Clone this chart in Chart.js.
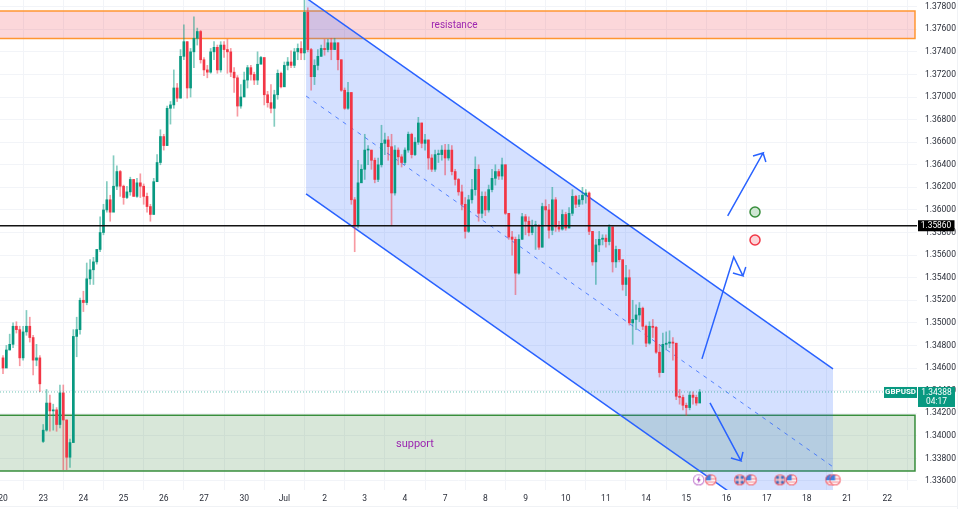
<!DOCTYPE html>
<html lang="en">

<head>
    <meta charset="UTF-8">
    <title>GBPUSD</title>
    <script src="https://cdn.jsdelivr.net/npm/chart.js"></script>
    <style>
        html, body { margin: 0; padding: 0; background: #ffffff; overflow: hidden; }
        canvas { display: block; }
    </style>
</head>

<body>
    <canvas id="grafico" width="964" height="509"></canvas>

<script>
    // day labels of the time axis, one per session
    const dayLabels = ['20','23','24','25','26','27','30','Jul','2','3','4','7','8','9','10','11','14','15','16','17','18','21','22'];
    const priceTicks = [1.378,1.376,1.374,1.372,1.370,1.368,1.366,1.364,1.362,1.360,1.358,1.356,1.354,1.352,1.350,1.348,1.346,1.344,1.342,1.340,1.338,1.336];

    // 2h candles, 12 per session
    const opens = [
        1.3469,1.3460,1.3476,1.3481,1.3497,1.3494,1.3469,1.3492,1.3497,1.3487,1.3467,1.3469,
        1.3395,1.3405,1.3429,1.3422,1.3423,1.3410,1.3438,1.3414,1.3381,1.3394,1.3488,1.3494,
        1.3520,1.3518,1.3539,1.3547,1.3554,1.3565,1.3580,1.3600,1.3609,1.3598,1.3621,1.3634,
        1.3621,1.3611,1.3616,1.3627,1.3612,1.3624,1.3621,1.3612,1.3603,1.3596,1.3625,1.3642,
        1.3665,1.3657,1.3690,1.3693,1.3708,1.3699,1.3736,1.3749,1.3708,1.3740,1.3752,1.3758,
        1.3733,1.3724,1.3722,1.3740,1.3744,1.3724,1.3746,1.3742,1.3740,1.3722,1.3717,1.3692,
        1.3700,1.3715,1.3726,1.3720,1.3715,1.3729,1.3735,1.3702,1.3695,1.3690,1.3702,1.3721,
        1.3709,1.3728,1.3731,1.3728,1.3740,1.3743,1.3739,1.3775,1.3742,1.3718,1.3728,1.3736,
        1.3743,1.3742,1.3748,1.3742,1.3748,1.3733,1.3706,1.3690,1.3704,1.3609,1.3586,1.3624,
        1.3636,1.3653,1.3653,1.3644,1.3627,1.3640,1.3659,1.3662,1.3656,1.3615,1.3653,1.3647,
        1.3642,1.3653,1.3667,1.3649,1.3660,1.3677,1.3659,1.3662,1.3646,1.3636,1.3649,1.3649,
        1.3653,1.3646,1.3653,1.3634,1.3627,1.3616,1.3605,1.3581,1.3609,1.3618,1.3636,1.3597,
        1.3612,1.3600,1.3618,1.3628,1.3634,1.3630,1.3640,1.3597,1.3576,1.3574,1.3544,1.3574,
        1.3594,1.3590,1.3580,1.3586,1.3586,1.3567,1.3603,1.3600,1.3582,1.3609,1.3585,1.3583,
        1.3596,1.3584,1.3597,1.3612,1.3605,1.3609,1.3613,1.3615,1.3581,1.3554,1.3569,1.3574,
        1.3575,1.3572,1.3585,1.3554,1.3565,1.3556,1.3534,1.3540,1.3500,1.3503,1.3507,1.3513,
        1.3497,1.3482,1.3497,1.3496,1.3474,1.3456,1.3481,1.3482,1.3483,1.3482,1.3435,1.3434,
        1.3427,1.3425,1.3436,1.3434,1.3429
    ];
    const closes = [
        1.3460,1.3476,1.3481,1.3497,1.3494,1.3469,1.3492,1.3497,1.3487,1.3467,1.3469,1.3446,
        1.3405,1.3429,1.3422,1.3423,1.3410,1.3438,1.3414,1.3381,1.3394,1.3488,1.3494,1.3520,
        1.3518,1.3539,1.3547,1.3554,1.3565,1.3580,1.3600,1.3609,1.3598,1.3621,1.3634,1.3621,
        1.3611,1.3616,1.3627,1.3612,1.3624,1.3621,1.3612,1.3603,1.3596,1.3625,1.3642,1.3665,
        1.3657,1.3690,1.3693,1.3708,1.3699,1.3736,1.3749,1.3708,1.3740,1.3752,1.3758,1.3733,
        1.3724,1.3722,1.3740,1.3744,1.3724,1.3746,1.3742,1.3740,1.3722,1.3717,1.3692,1.3700,
        1.3715,1.3726,1.3720,1.3715,1.3729,1.3735,1.3702,1.3695,1.3690,1.3702,1.3721,1.3709,
        1.3728,1.3731,1.3728,1.3740,1.3743,1.3739,1.3775,1.3742,1.3718,1.3728,1.3736,1.3743,
        1.3742,1.3748,1.3742,1.3748,1.3733,1.3706,1.3690,1.3704,1.3609,1.3586,1.3624,1.3636,
        1.3653,1.3653,1.3644,1.3627,1.3640,1.3659,1.3662,1.3656,1.3615,1.3653,1.3647,1.3642,
        1.3653,1.3667,1.3649,1.3660,1.3677,1.3659,1.3662,1.3646,1.3636,1.3649,1.3649,1.3653,
        1.3646,1.3653,1.3634,1.3627,1.3616,1.3605,1.3581,1.3609,1.3618,1.3636,1.3597,1.3612,
        1.3600,1.3618,1.3628,1.3634,1.3630,1.3640,1.3597,1.3576,1.3574,1.3544,1.3574,1.3594,
        1.3590,1.3580,1.3586,1.3586,1.3567,1.3603,1.3600,1.3582,1.3609,1.3585,1.3583,1.3596,
        1.3584,1.3597,1.3612,1.3605,1.3609,1.3613,1.3615,1.3581,1.3554,1.3569,1.3574,1.3575,
        1.3572,1.3585,1.3554,1.3565,1.3556,1.3534,1.3540,1.3500,1.3503,1.3507,1.3513,1.3497,
        1.3482,1.3497,1.3496,1.3474,1.3456,1.3481,1.3482,1.3483,1.3482,1.3435,1.3434,1.3427,
        1.3425,1.3436,1.3434,1.3429,1.34388
    ];
    const highs = [
        1.3471,1.3480,1.3490,1.3500,1.3501,1.3497,1.3497,1.3511,1.3505,1.3489,1.3481,1.3471,
        1.3410,1.3441,1.3436,1.3428,1.3425,1.3445,1.3445,1.3414,1.3397,1.3494,1.3505,1.3522,
        1.3528,1.3553,1.3556,1.3558,1.3565,1.3594,1.3605,1.3625,1.3613,1.3648,1.3639,1.3635,
        1.3622,1.3621,1.3629,1.3627,1.3628,1.3632,1.3623,1.3615,1.3605,1.3628,1.3649,1.3671,
        1.3667,1.3692,1.3696,1.3724,1.3712,1.3742,1.3764,1.3749,1.3743,1.3771,1.3761,1.3759,
        1.3735,1.3728,1.3743,1.3749,1.3746,1.3749,1.3749,1.3751,1.3743,1.3726,1.3719,1.3711,
        1.3722,1.3728,1.3728,1.3722,1.3740,1.3736,1.3733,1.3705,1.3711,1.3706,1.3724,1.3722,
        1.3731,1.3735,1.3741,1.3743,1.3747,1.3749,1.3786,1.3779,1.3743,1.3733,1.3742,1.3746,
        1.3751,1.3751,1.3752,1.3752,1.3748,1.3733,1.3708,1.3713,1.3704,1.3611,1.3644,1.3640,
        1.3667,1.3657,1.3653,1.3646,1.3646,1.3675,1.3668,1.3665,1.3667,1.3657,1.3655,1.3649,
        1.3655,1.3669,1.3668,1.3664,1.3682,1.3677,1.3667,1.3662,1.3649,1.3653,1.3653,1.3657,
        1.3658,1.3658,1.3657,1.3636,1.3628,1.3622,1.3611,1.3613,1.3627,1.3647,1.3640,1.3616,
        1.3616,1.3622,1.3636,1.3640,1.3636,1.3646,1.3640,1.3597,1.3581,1.3576,1.3578,1.3597,
        1.3596,1.3594,1.3591,1.3590,1.3587,1.3606,1.3609,1.3605,1.3620,1.3611,1.3590,1.3600,
        1.3598,1.3602,1.3618,1.3613,1.3613,1.3620,1.3618,1.3616,1.3581,1.3574,1.3581,1.3578,
        1.3578,1.3587,1.3585,1.3568,1.3565,1.3554,1.3551,1.3547,1.3520,1.3516,1.3518,1.3514,
        1.3498,1.3501,1.3503,1.3497,1.3481,1.3491,1.3492,1.3493,1.3487,1.3482,1.3441,1.3436,
        1.3429,1.3439,1.3439,1.3436,1.3441
    ];
    const lows = [
        1.3455,1.3462,1.3476,1.3478,1.3491,1.3462,1.3467,1.3489,1.3483,1.3454,1.3462,1.3439,
        1.3394,1.3404,1.3404,1.3405,1.3404,1.3407,1.3370,1.3370,1.3372,1.3394,1.3470,1.3490,
        1.3510,1.3516,1.3534,1.3534,1.3552,1.3563,1.3578,1.3598,1.3590,1.3611,1.3618,1.3612,
        1.3605,1.3610,1.3613,1.3612,1.3611,1.3611,1.3605,1.3598,1.3590,1.3596,1.3625,1.3640,
        1.3653,1.3657,1.3676,1.3690,1.3696,1.3699,1.3733,1.3699,1.3700,1.3726,1.3746,1.3730,
        1.3719,1.3717,1.3721,1.3733,1.3721,1.3722,1.3735,1.3721,1.3718,1.3704,1.3683,1.3690,
        1.3702,1.3708,1.3715,1.3711,1.3711,1.3730,1.3693,1.3691,1.3686,1.3674,1.3698,1.3708,
        1.3711,1.3724,1.3726,1.3726,1.3733,1.3733,1.3733,1.3740,1.3706,1.3711,1.3724,1.3736,
        1.3737,1.3740,1.3733,1.3742,1.3724,1.3705,1.3689,1.3689,1.3605,1.3563,1.3584,1.3627,
        1.3627,1.3640,1.3636,1.3624,1.3625,1.3638,1.3649,1.3644,1.3586,1.3613,1.3640,1.3638,
        1.3640,1.3651,1.3646,1.3648,1.3658,1.3655,1.3653,1.3636,1.3634,1.3634,1.3642,1.3644,
        1.3631,1.3644,1.3631,1.3622,1.3613,1.3600,1.3575,1.3580,1.3606,1.3613,1.3590,1.3593,
        1.3595,1.3598,1.3616,1.3622,1.3627,1.3627,1.3596,1.3574,1.3560,1.3525,1.3543,1.3574,
        1.3578,1.3577,1.3578,1.3565,1.3565,1.3567,1.3587,1.3575,1.3578,1.3581,1.3581,1.3582,
        1.3582,1.3584,1.3595,1.3602,1.3603,1.3605,1.3606,1.3578,1.3551,1.3534,1.3563,1.3569,
        1.3567,1.3569,1.3545,1.3549,1.3554,1.3529,1.3524,1.3498,1.3481,1.3494,1.3501,1.3494,
        1.3479,1.3481,1.3487,1.3473,1.3452,1.3456,1.3476,1.3478,1.3467,1.3432,1.3428,1.3423,
        1.3418,1.3423,1.3428,1.3427,1.3431
    ];

    // levels and drawings, x is counted in sessions from the first label
    const xStart = -0.0746;
    const xEnd = 22.74;
    const lastPrice = 1.34388;
    const blackLevel = 1.35860;
    const resistanceZone = { left: -0.3, right: 22.69, top: 1.37762, bottom: 1.37518 };
    const supportZone = { left: -0.3, right: 22.69, top: 1.34181, bottom: 1.33689 };
    const channelX = [7.54, 20.65];
    const channelUpper = [1.37877, 1.34592];
    const channelMiddle = [1.37009, 1.33725];
    const channelLower = [1.36142, 1.32857];
    const arrowLeft = [[17.39,1.34681],[18.18,1.35584],[18.41,1.35416],[18.16,1.35442],[18.41,1.35416],[18.48,1.35495]];
    const arrowUp = [[18.03,1.35947],[18.91,1.36504],[18.66,1.36478],[18.91,1.36504],[18.98,1.36425]];
    const arrowDown = [[17.59,1.34291],[18.36,1.33778],[18.11,1.33804],[18.36,1.33778],[18.41,1.33857]];
    const greenDot = [18.71, 1.35982];
    const redDot = [18.71, 1.35734];
    const eventY = 1.3361;
    const boltEvents = [17.31];
    const ukEvents = [18.33, 19.33];
    const usEvents = [17.61, 18.61, 19.62, 20.60, 20.70];

    const verde = '#089981';
    const vermelho = '#f23645';
    const azul = '#2962ff';

    const wicks = highs.map((h, i) => ({ x: i / 12, y: [lows[i], h] }));
    const bodies = opens.map((o, i) => ({ x: i / 12, y: [o, closes[i]] }));
    const candleColor = (alpha) => opens.map((o, i) => {
        if (closes[i] >= o) return alpha ? 'rgba(8,153,129,' + alpha + ')' : verde;
        return alpha ? 'rgba(242,54,69,' + alpha + ')' : vermelho;
    });

    function xy(list) {
        return list.map(p => ({ x: p[0], y: p[1] }));
    }

    // little event badges at the bottom of the chart
    function badge(draw) {
        const c = document.createElement('canvas');
        c.width = 13;
        c.height = 13;
        const ctx = c.getContext('2d');
        ctx.beginPath();
        ctx.arc(6.5, 6.5, 5.6, 0, Math.PI * 2);
        ctx.fillStyle = '#ffffff';
        ctx.fill();
        ctx.save();
        ctx.clip();
        draw(ctx);
        ctx.restore();
        return c;
    }

    const usIcon = badge(ctx => {
        ctx.fillStyle = '#f7a8ae';
        ctx.fillRect(0, 0, 13, 13);
        ctx.fillStyle = '#ffffff';
        ctx.fillRect(0, 3, 13, 1.5);
        ctx.fillRect(0, 6.5, 13, 1.5);
        ctx.fillRect(0, 9.5, 13, 1.5);
        ctx.fillStyle = '#3f7fe0';
        ctx.fillRect(1, 1, 5.5, 6);
        ctx.beginPath();
        ctx.arc(6.5, 6.5, 5.6, 0, Math.PI * 2);
        ctx.strokeStyle = vermelho;
        ctx.lineWidth = 1.4;
        ctx.stroke();
    });
    const ukIcon = badge(ctx => {
        ctx.fillStyle = '#f7c4c8';
        ctx.fillRect(0, 0, 13, 13);
        ctx.fillStyle = '#3f6fc0';
        ctx.fillRect(2.5, 2.5, 3, 3);
        ctx.fillRect(7.5, 2.5, 3, 3);
        ctx.fillRect(2.5, 7.5, 3, 3);
        ctx.fillRect(7.5, 7.5, 3, 3);
        ctx.beginPath();
        ctx.arc(6.5, 6.5, 5.6, 0, Math.PI * 2);
        ctx.strokeStyle = vermelho;
        ctx.lineWidth = 1.4;
        ctx.stroke();
    });
    const boltIcon = badge(ctx => {
        ctx.beginPath();
        ctx.moveTo(7.5, 2.5);
        ctx.lineTo(4.5, 7);
        ctx.lineTo(6.5, 7);
        ctx.lineTo(5.5, 10.5);
        ctx.lineTo(8.5, 6);
        ctx.lineTo(6.5, 6);
        ctx.closePath();
        ctx.fillStyle = '#9c27b0';
        ctx.fill();
        ctx.beginPath();
        ctx.arc(6.5, 6.5, 5.6, 0, Math.PI * 2);
        ctx.strokeStyle = '#9c27b0';
        ctx.lineWidth = 1.2;
        ctx.stroke();
    });

    function linha(data, color, width, extra) {
        return Object.assign({
            type: 'line',
            data: data,
            borderColor: color,
            borderWidth: width,
            pointRadius: 0,
            tension: 0,
            fill: false,
            order: 1
        }, extra || {});
    }

    function pontos(xs, icon) {
        return {
            type: 'line',
            data: xs.map(x => ({ x: x, y: eventY })),
            showLine: false,
            pointStyle: icon,
            pointRadius: 6,
            order: 0
        };
    }

    // tick labels may touch the canvas edge, so the scales keep no padding of their own
    function semPadding(axis) {
        axis.paddingLeft = 0;
        axis.paddingRight = 0;
        axis.paddingTop = 0;
        axis.paddingBottom = 0;
    }

    // price tags on the right and the two zone captions
    const etiquetas = {
        id: 'etiquetas',
        afterDraw(chart) {
            const ctx = chart.ctx;
            const x = chart.scales.x;
            const y = chart.scales.y;

            ctx.save();
            ctx.textBaseline = 'middle';

            ctx.fillStyle = '#9c27b0';
            ctx.textAlign = 'center';
            ctx.font = '10px Roboto';
            ctx.fillText('resistance', x.getPixelForValue(11.23), y.getPixelForValue(1.37635));
            ctx.font = '11px Roboto';
            ctx.fillText('support', x.getPixelForValue(10.25), y.getPixelForValue(1.33925));

            const blackY = y.getPixelForValue(blackLevel);
            ctx.fillStyle = '#000000';
            ctx.fillRect(918, blackY - 5.5, 36.5, 11);
            ctx.fillStyle = '#ffffff';
            ctx.font = '8.4px Roboto';
            ctx.fillText(blackLevel.toFixed(5), 936, blackY + 0.5);

            const lastY = y.getPixelForValue(lastPrice);
            ctx.fillStyle = verde;
            ctx.fillRect(884, lastY - 5, 33, 11);
            ctx.fillRect(918, lastY - 5, 37, 20);
            ctx.fillStyle = '#ffffff';
            ctx.font = 'bold 8px Roboto';
            ctx.fillText('GBPUSD', 900.5, lastY + 0.5);
            ctx.font = '8.4px Roboto';
            ctx.fillText(lastPrice.toFixed(5), 936.5, lastY + 0.5);
            ctx.fillText('04:17', 936.5, lastY + 10);

            ctx.strokeStyle = '#f0f2f5';
            ctx.beginPath();
            ctx.moveTo(957.5, 0);
            ctx.lineTo(957.5, 509);
            ctx.moveTo(0, 506.5);
            ctx.lineTo(958, 506.5);
            ctx.stroke();
            ctx.restore();
        }
    };

    new Chart(document.getElementById('grafico'), {
        type: 'bar',
        data: {
            datasets: [
                pontos(boltEvents, boltIcon),
                pontos(usEvents, usIcon),
                pontos(ukEvents, ukIcon),
                linha(xy(arrowLeft), azul, 1.5),
                linha(xy(arrowUp), azul, 1.5),
                linha(xy(arrowDown), azul, 1.5),
                {
                    type: 'line',
                    data: [{ x: greenDot[0], y: greenDot[1] }],
                    showLine: false,
                    pointRadius: 5,
                    pointBorderWidth: 1.5,
                    pointBackgroundColor: '#cfe6d3',
                    pointBorderColor: '#388e3c',
                    order: 0
                },
                {
                    type: 'line',
                    data: [{ x: redDot[0], y: redDot[1] }],
                    showLine: false,
                    pointRadius: 5,
                    pointBorderWidth: 1.5,
                    pointBackgroundColor: '#fbd5d8',
                    pointBorderColor: vermelho,
                    order: 0
                },
                // levels
                linha([{ x: xStart, y: blackLevel }, { x: xEnd, y: blackLevel }], '#131313', 1.6, { order: 1 }),
                linha([{ x: xStart, y: lastPrice }, { x: xEnd, y: lastPrice }], 'rgba(8,153,129,0.6)', 1, { borderDash: [1, 2], order: 1 }),
                // candles
                {
                    data: bodies,
                    backgroundColor: candleColor(),
                    barThickness: 2,
                    minBarLength: 1,
                    grouped: false,
                    order: 3
                },
                {
                    data: wicks,
                    backgroundColor: candleColor(0.5),
                    barThickness: 1,
                    grouped: false,
                    order: 4
                },
                // channel
                linha([{ x: channelX[0], y: channelUpper[0] }, { x: channelX[1], y: channelUpper[1] }], azul, 1.5, { fill: { target: '+1', above: 'rgba(41,98,255,0.2)', below: 'rgba(41,98,255,0.2)' }, order: 5 }),
                linha([{ x: channelX[0], y: channelLower[0] }, { x: channelX[1], y: channelLower[1] }], azul, 1.5, { order: 5 }),
                linha([{ x: channelX[0], y: channelMiddle[0] }, { x: channelX[1], y: channelMiddle[1] }], 'rgba(41,98,255,0.75)', 1, { borderDash: [4, 5], order: 5 }),
                // zones
                linha([{ x: resistanceZone.left, y: resistanceZone.top }, { x: resistanceZone.right, y: resistanceZone.top }], '#ff9632', 0, { fill: { target: '+1', above: 'rgba(242,54,69,0.2)', below: 'rgba(242,54,69,0.2)' }, order: 7 }),
                linha([{ x: resistanceZone.left, y: resistanceZone.bottom }, { x: resistanceZone.right, y: resistanceZone.bottom }], '#ff9632', 0, { order: 7 }),
                linha(xy([[resistanceZone.left, resistanceZone.top], [resistanceZone.right, resistanceZone.top], [resistanceZone.right, resistanceZone.bottom], [resistanceZone.left, resistanceZone.bottom]]), '#ff9632', 1.5, { order: 6 }),
                linha([{ x: supportZone.left, y: supportZone.top }, { x: supportZone.right, y: supportZone.top }], '#388e3c', 0, { fill: { target: '+1', above: 'rgba(76,145,80,0.22)', below: 'rgba(76,145,80,0.22)' }, order: 7 }),
                linha([{ x: supportZone.left, y: supportZone.bottom }, { x: supportZone.right, y: supportZone.bottom }], '#388e3c', 0, { order: 7 }),
                linha(xy([[supportZone.left, supportZone.top], [supportZone.right, supportZone.top], [supportZone.right, supportZone.bottom], [supportZone.left, supportZone.bottom]]), '#388e3c', 1.5, { order: 6 })
            ]
        },
        options: {
            responsive: false,
            animation: false,
            layout: { padding: 0, autoPadding: false },
            plugins: {
                legend: { display: false },
                tooltip: { enabled: false },
                title: { display: false }
            },
            scales: {
                x: {
                    type: 'linear',
                    min: xStart,
                    max: xEnd,
                    offset: false,
                    border: { display: false },
                    grid: { color: '#f2f4f8', drawTicks: false },
                    afterBuildTicks: axis => { axis.ticks = dayLabels.map((d, i) => ({ value: i })); },
                    afterFit: axis => { axis.height = 19; semPadding(axis); },
                    ticks: {
                        autoSkip: false,
                        maxRotation: 0,
                        padding: 4,
                        color: '#2a2e39',
                        font: { family: 'Roboto', size: 8.5 },
                        callback: value => dayLabels[value]
                    }
                },
                y: {
                    position: 'right',
                    min: 1.33520,
                    max: 1.37859,
                    border: { display: false },
                    grid: { color: '#f2f4f8', drawTicks: false },
                    afterBuildTicks: axis => { axis.ticks = priceTicks.map(v => ({ value: v })); },
                    afterFit: axis => { axis.width = 47; semPadding(axis); },
                    ticks: {
                        autoSkip: false,
                        padding: 8,
                        color: '#2a2e39',
                        font: { family: 'Roboto', size: 8.5 },
                        callback: value => value.toFixed(5)
                    }
                }
            }
        },
        plugins: [etiquetas]
    });
</script>
</body>

</html>
